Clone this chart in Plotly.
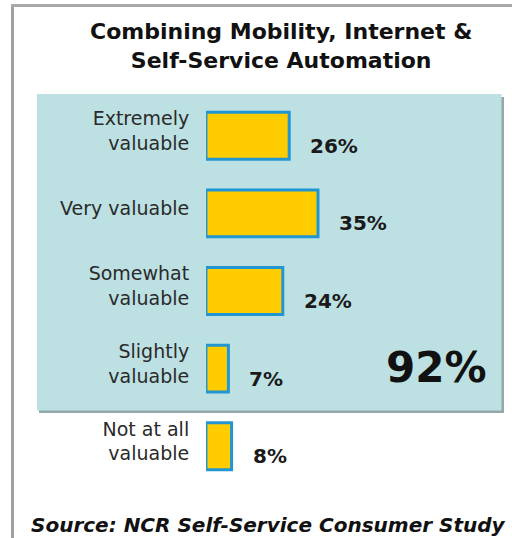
import plotly.graph_objects as go

# ---- data ----
categories = ["Extremely<br>valuable", "Very valuable", "Somewhat<br>valuable",
              "Slightly<br>valuable", "Not at all<br>valuable"]
values = [26, 35, 24, 7, 8]
value_labels = ["26%", "35%", "24%", "7%", "8%"]
total_label = "92%"
title_lines = ["Combining Mobility, Internet &", "Self-Service Automation"]
source_text = "Source: NCR Self-Service Consumer Study"

# ---- layout geometry (pixels) ----
W, H = 512, 538
ML, MR, MT, MB = 206, 6, 97, 53
PW, PH = W - ML - MR, H - MT - MB
PX_PER_PCT = 3.2


def px(x):
    return (x - ML) / PW


def py(y):
    return (H - MB - y) / PH


FONT = "DejaVu Sans"

fig = go.Figure()
fig.add_trace(go.Bar(
    y=categories, x=values, orientation="h",
    width=0.605,
    marker=dict(color="#FFCC00", line=dict(color="#2196d3", width=3)),
    hoverinfo="skip",
))

shapes = [
    # frame lines
    dict(type="line", xref="paper", yref="paper", x0=px(12.5), x1=px(12.5),
         y0=py(4), y1=py(540), line=dict(color="#a0a0a0", width=3)),
    dict(type="line", xref="paper", yref="paper", x0=px(11), x1=px(514),
         y0=py(5.5), y1=py(5.5), line=dict(color="#a8a8a8", width=3)),
    # box shadow
    dict(type="rect", xref="paper", yref="paper", x0=px(39), x1=px(504),
         y0=py(97), y1=py(413), fillcolor="#93a9aa", line=dict(width=0),
         layer="below"),
    # box
    dict(type="rect", xref="paper", yref="paper", x0=px(37), x1=px(501.5),
         y0=py(94), y1=py(410.5), fillcolor="#bde0e3", line=dict(width=0),
         layer="below"),
]

annotations = [dict(
    text="<br>".join(title_lines), xref="paper", yref="paper",
    x=px(281), y=py(46), xanchor="center", yanchor="middle",
    align="center", showarrow=False,
    font=dict(family=FONT, size=22, color="#111111", weight="bold"))]

for cat, v, lab in zip(categories, values, value_labels):
    annotations.append(dict(
        text=lab, x=v, y=cat, xref="x", yref="y", xanchor="left",
        yanchor="middle", xshift=19, yshift=-10, showarrow=False,
        font=dict(family=FONT, size=20, color="#1a1a1a", weight="bold")))

annotations.append(dict(
    text=total_label, xref="paper", yref="paper", x=px(489), y=py(367),
    xanchor="right", yanchor="middle", showarrow=False,
    font=dict(family=FONT, size=42, color="#111111", weight="bold")))

annotations.append(dict(
    text=source_text, xref="paper", yref="paper", x=px(29), y=py(525),
    xanchor="left", yanchor="middle", showarrow=False,
    font=dict(family=FONT, size=20, color="#111111", weight="bold",
              style="italic")))

fig.update_layout(
    width=W, height=H,
    margin=dict(l=ML, r=MR, t=MT, b=MB, pad=0),
    paper_bgcolor="white", plot_bgcolor="rgba(0,0,0,0)",
    showlegend=False,
    shapes=shapes, annotations=annotations,
    xaxis=dict(range=[0, PW / PX_PER_PCT], visible=False, fixedrange=True),
    yaxis=dict(autorange="reversed", showgrid=False, zeroline=False,
               showline=False, ticks="outside", ticklen=12,
               tickcolor="rgba(0,0,0,0)", ticklabelshift=5,
               tickfont=dict(family=FONT, size=19, color="#2a2a2a"),
               fixedrange=True),
)

fig.write_html("out.html", config={"displayModeBar": False})
